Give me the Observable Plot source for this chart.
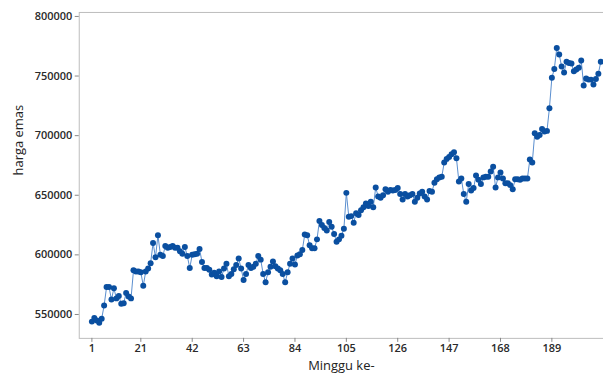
<!DOCTYPE html>
<html>
<head>
<meta charset="utf-8">
<script src="https://cdn.jsdelivr.net/npm/d3@7"></script>
<script src="https://cdn.jsdelivr.net/npm/@observablehq/plot@0.6"></script>
<style>
  html, body { margin: 0; padding: 0; background: #fff; overflow: hidden; }
  #chart svg { display: block; }
</style>
</head>
<body>
<div id="chart"></div>
<script>
const hargaEmas = [
  544000, 547000, 545000, 543000, 546500, 557500, 573000, 573000, 562500, 572000,
  563500, 565500, 559000, 559500, 568000, 565000, 563500, 587000, 586000, 586000,
  585500, 574000, 586000, 588500, 593000, 610000, 598000, 616500, 600000, 599000,
  607500, 606000, 606500, 607500, 606000, 606000, 603000, 601000, 606500, 599000,
  589000, 600000, 600500, 601000, 605000, 594000, 589000, 589000, 587500, 583500,
  585000, 582000, 586000, 581500, 588500, 592500, 582000, 584000, 588000, 591500,
  597000, 588500, 579000, 584000, 591500, 589000, 590000, 592500, 599000, 596000,
  584000, 577000, 585500, 590000, 594500, 590500, 588500, 587000, 584000, 577000,
  585500, 592500, 597000, 592000, 599500, 600500, 604000, 617000, 616500, 608000,
  605500, 605500, 613000, 628500, 625000, 622500, 620500, 627500, 623500, 617500,
  611000, 613000, 616000, 622000, 652000, 632000, 632500, 627000, 635000, 633500,
  637500, 640000, 643000, 641000, 644500, 640000, 656500, 649000, 648000, 650000,
  655000, 653000, 654500, 654000, 654500, 656000, 651000, 646500, 651000, 649000,
  650000, 651000, 644500, 648000, 651500, 653000, 649000, 646500, 653500, 653000,
  660500, 663500, 665000, 665500, 677500, 680500, 682000, 684500, 686000, 681000,
  661500, 664000, 651000, 644500, 659500, 654000, 656000, 666500, 663000, 659500,
  665000, 665500, 665500, 670000, 674000, 656500, 665000, 669000, 664000, 660000,
  660000, 658500, 655000, 663500, 663500, 663000, 664000, 664000, 664000, 680000,
  677500, 702000, 699000, 700500, 705500, 703500, 704000, 723000, 748500, 756000,
  773500, 768000, 758000, 753000, 762000, 761000, 760500, 754000, 755500, 757000,
  763000, 742000, 748000, 747000, 747000, 743000, 747500, 752000, 762000
];
const xTicks = [1, 21, 42, 63, 84, 105, 126, 147, 168, 189];
const yTicks = [550000, 600000, 650000, 700000, 750000, 800000];
const xLabel = "Minggu ke-";
const yLabel = "harga emas";

const data = hargaEmas.map((v, i) => ({minggu: i + 1, harga: v}));

const chart = Plot.plot({
  width: 605,
  height: 376,
  marginLeft: 79,
  marginRight: 0,
  marginTop: 12,
  marginBottom: 37,
  style: {fontFamily: "'Open Sans', sans-serif", fontSize: "11px", color: "#333", background: "#fff"},
  x: {domain: [-4.17, 210.1]},
  y: {domain: [529950, 803340]},
  marks: [
    Plot.frame({stroke: "#bdbdbd"}),
    Plot.axisX({ticks: xTicks, tickFormat: d => String(d), tickSize: 4, tickPadding: 2,
      stroke: "#888", fill: "#2a2a2a", fontWeight: 600, label: null}),
    Plot.axisY({ticks: yTicks, tickFormat: d => String(d), tickSize: 4, tickPadding: 3,
      stroke: "#888", fill: "#2a2a2a", fontWeight: 600, label: null}),
    Plot.text([xLabel], {frameAnchor: "bottom", dy: 23, fontSize: 13, fill: "#222", text: d => d, lineAnchor: "top"}),
    Plot.text([yLabel], {frameAnchor: "left", dx: -61, rotate: -90, fontSize: 13, fill: "#222", text: d => d}),
    Plot.line(data, {x: "minggu", y: "harga", stroke: "#5a8fcf", strokeWidth: 1}),
    Plot.dot(data, {x: "minggu", y: "harga", r: 3, fill: "#0a4fa0", stroke: "none"})
  ]
});
document.getElementById("chart").appendChild(chart);
</script>
</body>
</html>
